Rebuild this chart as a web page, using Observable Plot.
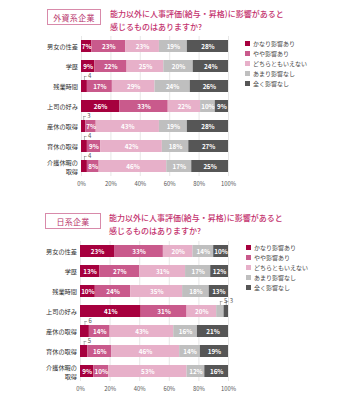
<!DOCTYPE html>
<html>
<head>
<meta charset="utf-8">
<script src="https://cdn.jsdelivr.net/npm/d3@7"></script>
<script src="https://cdn.jsdelivr.net/npm/@observablehq/plot@0.6"></script>
<style>
  html, body { margin: 0; padding: 0; background: #fff; }
  body { font-family: "Noto Sans CJK JP", "Noto Sans", sans-serif; }
  #root { position: relative; width: 341px; height: 400px; overflow: hidden; }
  .tag { position: absolute; box-sizing: border-box; border: 1px solid #d88aaa; color: #b8326a;
         font-size: 8px; display: flex; align-items: center; justify-content: center; letter-spacing: 0.3px; }
  .title { position: absolute; color: #c3326e; font-size: 8px; line-height: 13px; font-weight: 500; }
  .legend { position: absolute; font-size: 6px; color: #444; }
  .legend div { display: flex; align-items: center; height: 10.2px; }
  .legend span.sw { display: inline-block; width: 5px; height: 5px; margin-right: 3px; }
  .panel { position: absolute; left: 0; }
</style>
</head>
<body>
<div id="root"></div>
<script>
// ---- data ----
const categories = ["男女の性差", "学歴", "残業時間", "上司の好み", "産休の取得", "育休の取得", "介護休暇の\n取得"];
const responses = ["かなり影響あり", "やや影響あり", "どちらともいえない", "あまり影響なし", "全く影響なし"];
const colors = ["#a6003e", "#c95a8c", "#e7b0c9", "#bfbfbf", "#565656"];
const foreignValues = [
  [7, 23, 23, 19, 28],
  [9, 22, 25, 20, 24],
  [4, 17, 29, 24, 26],
  [26, 33, 22, 10, 9],
  [3, 7, 43, 19, 28],
  [4, 9, 42, 18, 27],
  [4, 8, 46, 17, 25]
];
const japanValues = [
  [23, 33, 20, 14, 10],
  [13, 27, 31, 17, 12],
  [10, 24, 35, 18, 13],
  [41, 31, 20, 5, 3],
  [6, 14, 43, 16, 21],
  [5, 16, 46, 14, 19],
  [9, 10, 53, 12, 16]
];
const xTicks = [0, 20, 40, 60, 80, 100];
const foreignTitle = "外資系企業";
const japanTitle = "日系企業";
const question = ["能力以外に人事評価(給与・昇格)に影響があると", "感じるものはありますか?"];

function toRows(values) {
  const rows = [];
  categories.forEach((c, i) => {
    let acc = 0;
    responses.forEach((r, j) => {
      const v = values[i][j];
      rows.push({category: c, response: r, value: v, start: acc, end: acc + v, mid: acc + v / 2});
      acc += v;
    });
  });
  return rows;
}

const root = document.getElementById("root");

function addHeader(tagText, tagBox, titleLeft, titleTop) {
  const t = document.createElement("div");
  t.className = "tag";
  Object.assign(t.style, {left: tagBox[0] + "px", top: tagBox[1] + "px", width: tagBox[2] + "px", height: tagBox[3] + "px"});
  t.textContent = tagText;
  root.appendChild(t);
  const q = document.createElement("div");
  q.className = "title";
  q.style.left = titleLeft + "px";
  q.style.top = titleTop + "px";
  q.innerHTML = question.join("<br>");
  root.appendChild(q);
}

function addLegend(left, top) {
  const lg = document.createElement("div");
  lg.className = "legend";
  lg.style.left = left + "px";
  lg.style.top = top + "px";
  responses.forEach((r, i) => {
    const row = document.createElement("div");
    const sw = document.createElement("span");
    sw.className = "sw";
    sw.style.background = colors[i];
    row.appendChild(sw);
    row.appendChild(document.createTextNode(r));
    lg.appendChild(row);
  });
  root.appendChild(lg);
}

function makeChart(values, marginLeft) {
  const rows = toRows(values);
  const inside = rows.filter(d => d.value >= 7);
  const small = rows.filter(d => d.value < 7);
  return Plot.plot({
    width: 341,
    height: 165,
    marginLeft: marginLeft,
    marginRight: 113,
    marginTop: 6,
    marginBottom: 19,
    style: {fontFamily: '"Noto Sans CJK JP", "Noto Sans", sans-serif', background: "transparent", overflow: "visible"},
    x: {domain: [0, 100]},
    y: {domain: categories, padding: 0},
    color: {domain: responses, range: colors},
    marks: [
      Plot.gridX({ticks: xTicks, stroke: "#dcdcdc", strokeOpacity: 1, strokeWidth: 0.7}),
      Plot.barX(rows, {x1: "start", x2: "end", y: "category", fill: "response", insetTop: 4, insetBottom: 4}),
      Plot.text(inside, {x: "mid", y: "category", text: d => d.value + "%", fill: "white", fontSize: 6.3, fontWeight: 600}),
      Plot.tickX(small, {x: "mid", y: "category", stroke: "#888", strokeWidth: 0.6, insetTop: 0, insetBottom: 16}),
      Plot.ruleY(small, {y: "category", x1: "mid", x2: d => d.mid + 1.8, dy: -10, stroke: "#888", strokeWidth: 0.6}),
      Plot.text(small, {x: d => d.mid + 2.4, y: "category", dy: -10.5, text: d => String(d.value), textAnchor: "start", fill: "#555", fontSize: 6}),
      Plot.axisX({ticks: xTicks, tickFormat: d => d + "%", tickSize: 0, tickPadding: 5, fontSize: 5.8, fill: "#555", label: null}),
      Plot.axisY({tickSize: 0, tickPadding: 3.5, fontSize: 6.2, fill: "#333", label: null, lineHeight: 1.4})
    ]
  });
}

// Panel 1: foreign companies
addHeader(foreignTitle, [47, 9, 54, 16], 110, 7);
const c1 = makeChart(foreignValues, 81);
c1.classList.add("panel");
c1.style.top = "30px";
root.appendChild(c1);
addLegend(245, 38);

// Panel 2: Japanese companies
addHeader(japanTitle, [45, 213, 56, 16], 109, 211);
const c2 = makeChart(japanValues, 80);
c2.classList.add("panel");
c2.style.top = "235px";
root.appendChild(c2);
addLegend(246, 242);
</script>
</body>
</html>
